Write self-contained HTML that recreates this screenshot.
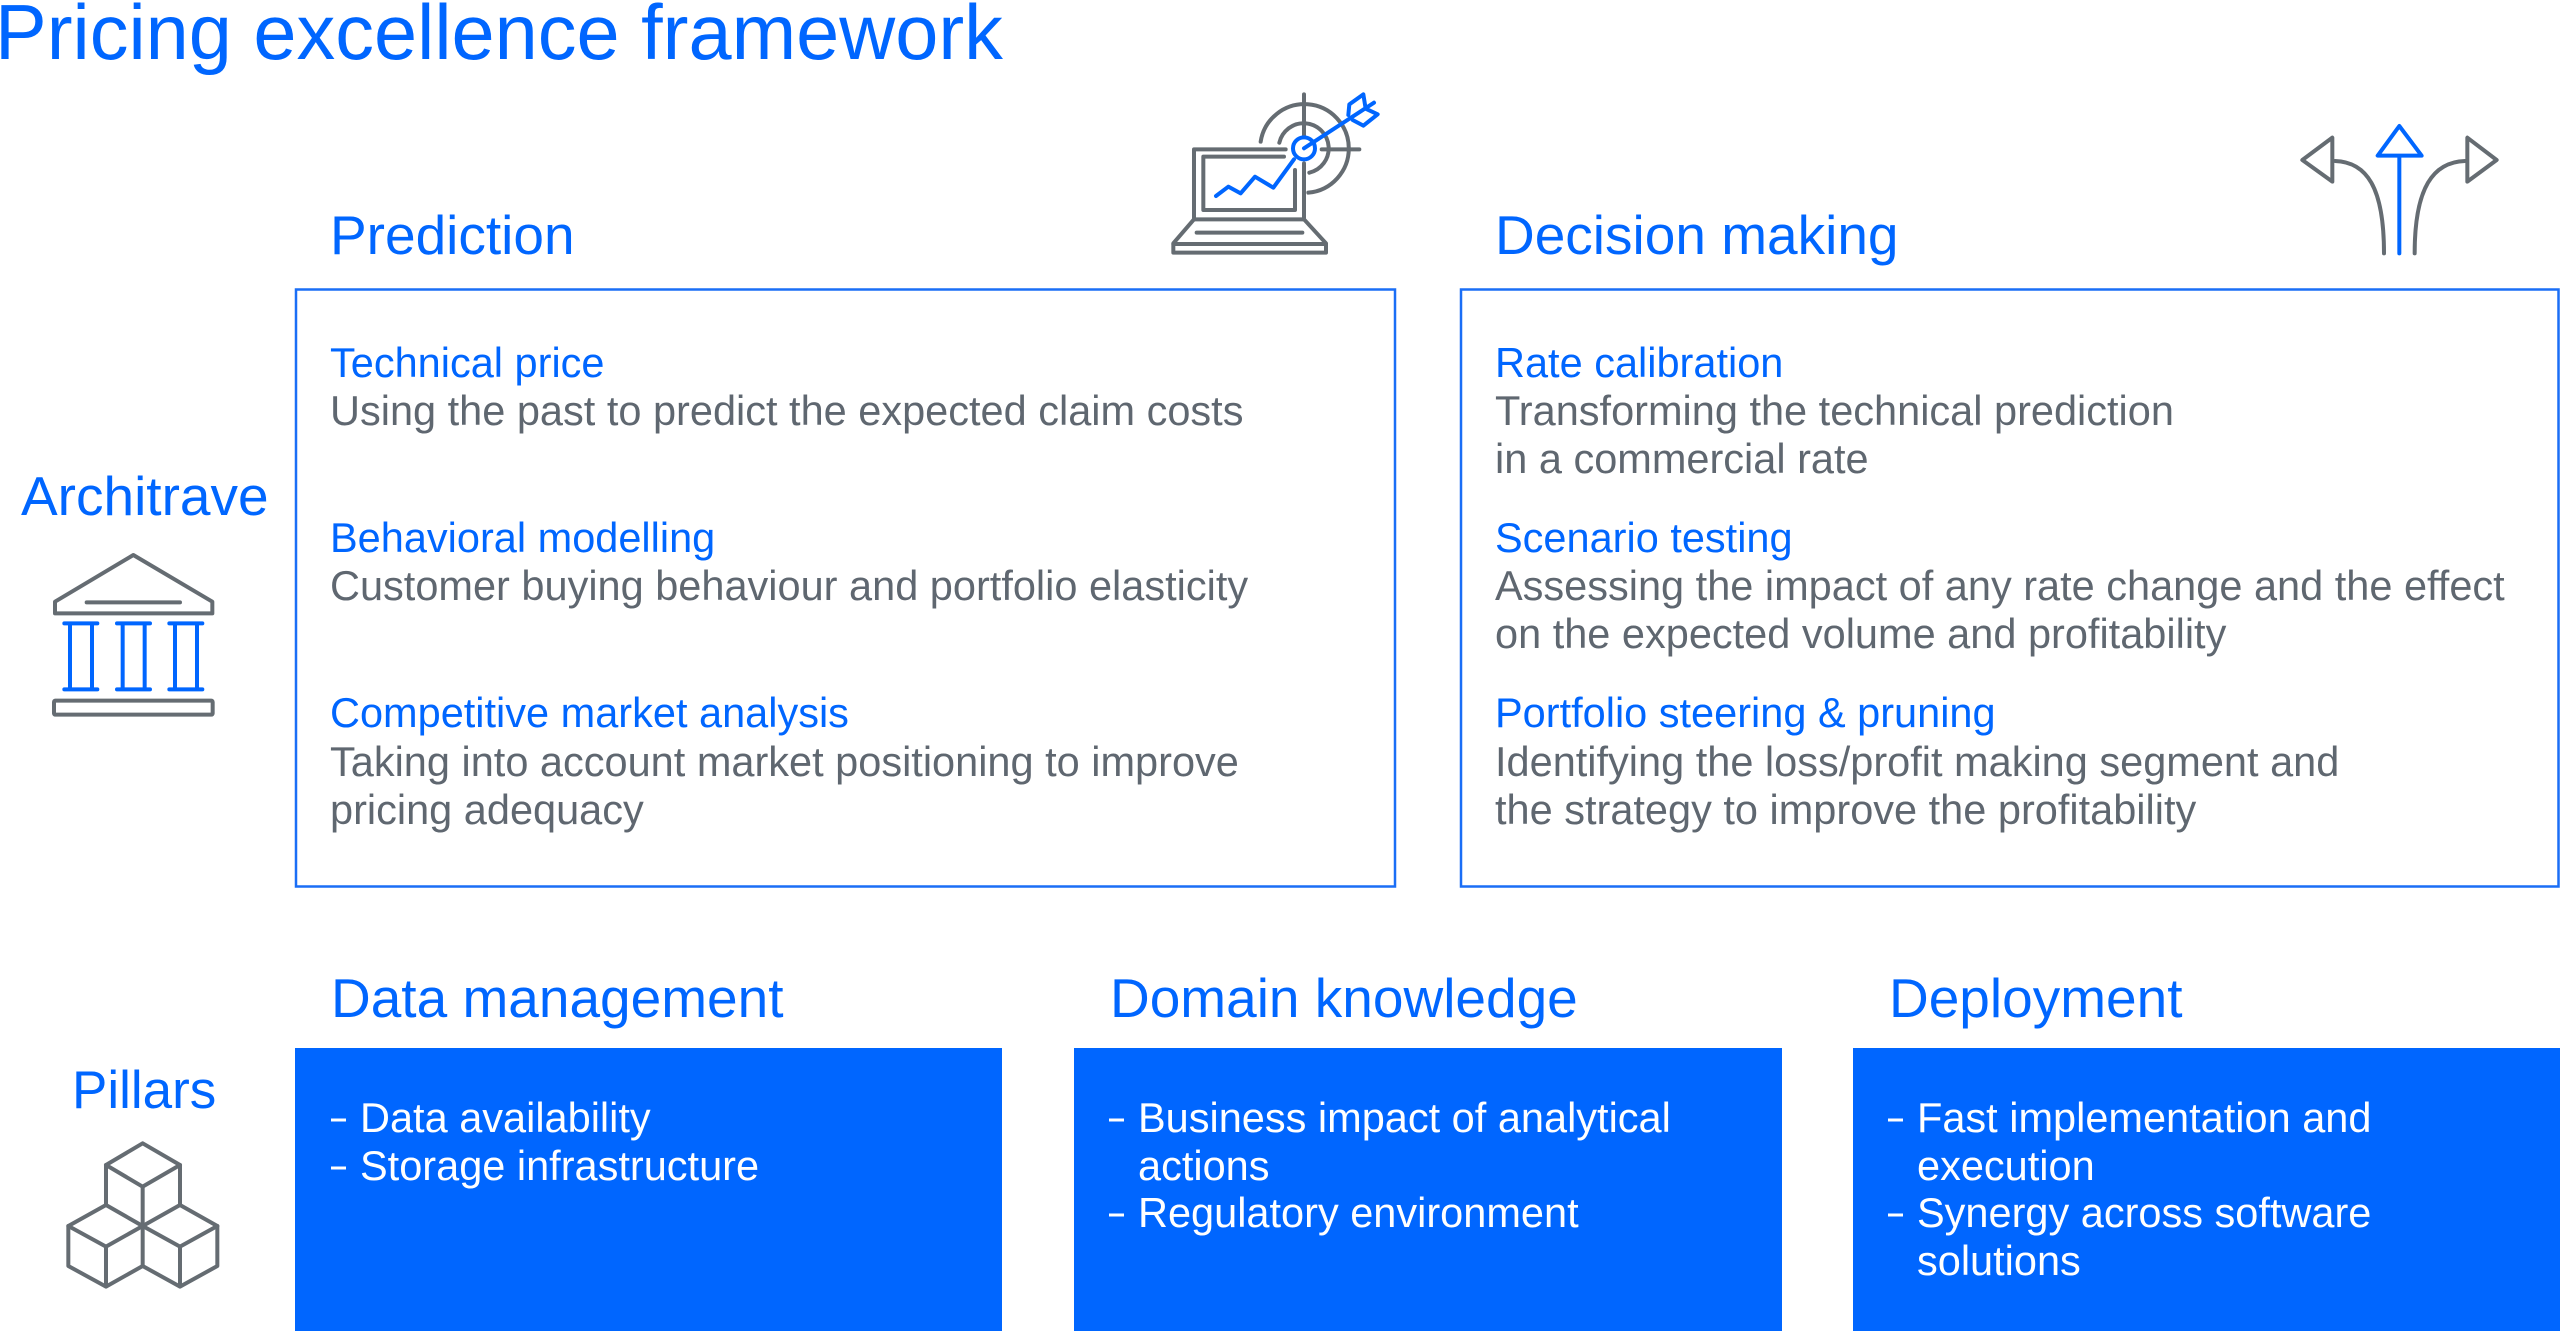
<!DOCTYPE html>
<html>
<head>
<meta charset="utf-8">
<style>
  html,body{margin:0;padding:0;background:#fff;}
  body{width:2560px;height:1331px;overflow:hidden;}
  svg{display:block;}
  text{font-family:"Liberation Sans", Arial, sans-serif;}
  .blue{fill:#0066ff;}
  .gray{fill:#5f6770;}
  .white{fill:#ffffff;}
  .ic{fill:none;stroke:#656c72;stroke-width:12;stroke-linecap:round;stroke-linejoin:round;}
  .icb{fill:none;stroke:#0066ff;stroke-width:12;stroke-linecap:round;stroke-linejoin:round;}
</style>
</head>
<body>
<svg width="2560" height="1331" viewBox="0 0 2560 1331" xmlns="http://www.w3.org/2000/svg">
  <!-- Title -->
  <text x="-5" y="59" font-size="77.5" class="blue">Pricing excellence framework</text>

  <!-- Section headings -->
  <text x="330" y="254" font-size="55" class="blue">Prediction</text>
  <text x="1495" y="254" font-size="55" class="blue">Decision making</text>
  <text x="21" y="515" font-size="55" class="blue">Architrave</text>
  <text x="72" y="1108" font-size="53" class="blue">Pillars</text>
  <text x="331" y="1017" font-size="55" class="blue">Data management</text>
  <text x="1110" y="1017" font-size="55" class="blue">Domain knowledge</text>
  <text x="1889" y="1017" font-size="55" class="blue">Deployment</text>

  <!-- Outlined boxes -->
  <rect x="296" y="289.5" width="1099" height="597" fill="none" stroke="#1a6ef6" stroke-width="2.5"/>
  <rect x="1461" y="289.5" width="1097.5" height="597" fill="none" stroke="#1a6ef6" stroke-width="2.5"/>

  <!-- Prediction content -->
  <g font-size="41.5">
    <text x="330" y="377" class="blue">Technical price</text>
    <text x="330" y="425" class="gray">Using the past to predict the expected claim costs</text>
    <text x="330" y="552" class="blue">Behavioral modelling</text>
    <text x="330" y="600" class="gray">Customer buying behaviour and portfolio elasticity</text>
    <text x="330" y="727" class="blue">Competitive market analysis</text>
    <text x="330" y="776" class="gray">Taking into account market positioning to improve</text>
    <text x="330" y="824" class="gray">pricing adequacy</text>

    <text x="1495" y="377" class="blue">Rate calibration</text>
    <text x="1495" y="425" class="gray">Transforming the technical prediction</text>
    <text x="1495" y="473" class="gray">in a commercial rate</text>
    <text x="1495" y="552" class="blue">Scenario testing</text>
    <text x="1495" y="600" class="gray">Assessing the impact of any rate change and the effect</text>
    <text x="1495" y="648" class="gray">on the expected volume and profitability</text>
    <text x="1495" y="727" class="blue">Portfolio steering &amp; pruning</text>
    <text x="1495" y="776" class="gray">Identifying the loss/profit making segment and</text>
    <text x="1495" y="824" class="gray">the strategy to improve the profitability</text>
  </g>

  <!-- Filled pillar boxes -->
  <rect x="295" y="1048" width="707" height="283" fill="#0066ff"/>
  <rect x="1074" y="1048" width="708" height="283" fill="#0066ff"/>
  <rect x="1853" y="1048" width="707" height="283" fill="#0066ff"/>

  <!-- Pillar bullets -->
  <g fill="#ffffff">
    <rect x="331" y="1118.5" width="15" height="3"/>
    <rect x="331" y="1166.5" width="15" height="3"/>
    <rect x="1109" y="1118.5" width="15" height="3"/>
    <rect x="1109" y="1213.5" width="15" height="3"/>
    <rect x="1888" y="1118.5" width="15" height="3"/>
    <rect x="1888" y="1213.5" width="15" height="3"/>
  </g>
  <g font-size="41.5" class="white">
    <text x="360" y="1132" class="white">Data availability</text>
    <text x="360" y="1180" class="white">Storage infrastructure</text>
    <text x="1138" y="1132" class="white">Business impact of analytical</text>
    <text x="1138" y="1180" class="white">actions</text>
    <text x="1138" y="1227" class="white">Regulatory environment</text>
    <text x="1917" y="1132" class="white">Fast implementation and</text>
    <text x="1917" y="1180" class="white">execution</text>
    <text x="1917" y="1227" class="white">Synergy across software</text>
    <text x="1917" y="1275" class="white">solutions</text>
  </g>

  <!-- Laptop + target icon -->
  <g transform="translate(1100,60) scale(0.33333)">
    <path class="ic" d="M482 245 A133 133 0 1 1 625 398"/>
    <path class="ic" d="M538 248 A75 75 0 1 1 628 338"/>
    <path class="ic" d="M612 103 V228"/>
    <path class="ic" d="M665 268 H778"/>
    <path class="ic" d="M557 268 H282 V478 H612 V310"/>
    <path class="ic" d="M552 290 H310 V450 H585 V330"/>
    <path class="ic" d="M282 478 L220 550 V578 H678 V550 L612 478"/>
    <path class="ic" d="M220 552 H678"/>
    <path class="ic" d="M290 518 H607"/>
    <circle class="icb" cx="612" cy="265" r="33"/>
    <path class="icb" d="M348 408 L385 380 L422 400 L465 350 L520 383 L582 298"/>
    <path class="icb" d="M612 265 L822 128"/>
    <path class="icb" d="M745 165 L748 133 L790 103 L797 146 L833 163 L790 197 L758 180"/>
  </g>

  <!-- Three-way arrows icon -->
  <g transform="translate(2240,100) scale(0.33333)">
    <path class="ic" d="M277 113 L277 245 L187 180 Z"/>
    <path class="ic" d="M285 183 C380 186 432 262 432 460"/>
    <path class="ic" d="M682 113 L682 245 L770 180 Z"/>
    <path class="ic" d="M675 183 C580 186 524 262 524 460"/>
    <path class="icb" d="M478 460 V168"/>
    <path class="icb" d="M413 167 L545 167 L478 78 Z"/>
  </g>

  <!-- Temple icon -->
  <g transform="translate(0,440) scale(0.33333)">
    <path class="ic" d="M400 345 L165 485 V520 H637 V485 Z"/>
    <path class="ic" d="M260 487 H540"/>
    <path class="icb" d="M193 550 H292 M193 748 H292 M210 550 V748 M276 550 V748"/>
    <path class="icb" d="M351 550 H450 M351 748 H450 M368 550 V748 M434 550 V748"/>
    <path class="icb" d="M508 550 H607 M508 748 H607 M525 550 V748 M591 550 V748"/>
    <rect class="ic" x="162" y="782" width="476" height="42" rx="4"/>
  </g>

  <!-- Cubes icon -->
  <g transform="translate(0,1040) scale(0.33333)">
    <path class="ic" d="M428 310 L318 375 L428 440 L540 375 Z"/>
    <path class="ic" d="M318 375 V495 M540 375 V495 M428 440 V678"/>
    <path class="ic" d="M318 495 L205 558 L318 620 L428 558 L318 495"/>
    <path class="ic" d="M205 558 V678 L318 740 L428 678 M318 620 V740"/>
    <path class="ic" d="M540 495 L428 558 L540 620 L652 558 Z"/>
    <path class="ic" d="M540 620 V740 M652 558 V678 L540 740 L428 678"/>
  </g>
</svg>
</body>
</html>
